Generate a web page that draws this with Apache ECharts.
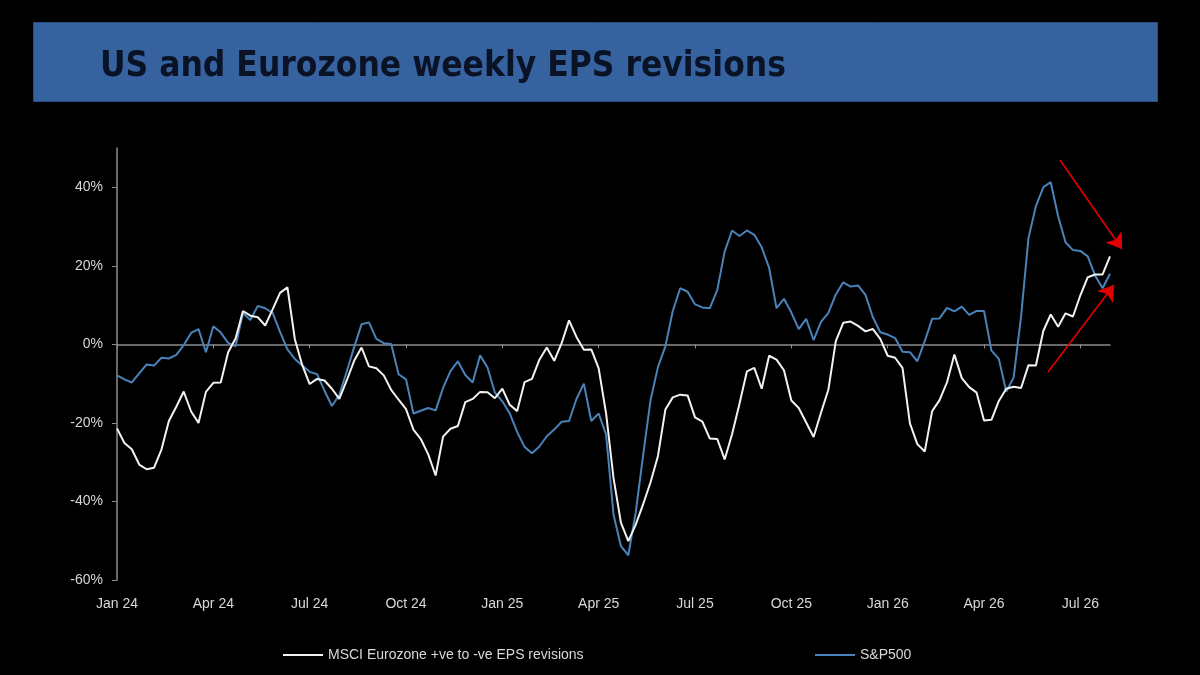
<!DOCTYPE html>
<html>
<head>
<meta charset="utf-8">
<script src="https://cdn.jsdelivr.net/npm/echarts@6/dist/echarts.min.js"></script>
<style>
html,body{margin:0;padding:0;background:#000;}
#chart{width:1200px;height:675px;}
</style>
</head>
<body>
<div id="chart"></div>
<script>
// ---- data ----
const titleText = "US and Eurozone weekly EPS revisions";
const seriesNames = ["MSCI Eurozone +ve to -ve EPS revisions", "S&P500"];
const tickLabels = ["Jan 24","Apr 24","Jul 24","Oct 24","Jan 25","Apr 25","Jul 25","Oct 25","Jan 26","Apr 26","Jul 26"];
const yTicks = [-60,-40,-20,0,20,40];

const eurozone = [
-21.4,-25.1,-26.7,-30.6,-31.8,-31.4,-26.8,-19.5,-15.9,-12.0,
-17.1,-20.0,-12.1,-9.8,-9.7,-2.0,1.5,8.5,7.3,6.9,
4.8,8.9,13.1,14.5,1.3,-5.3,-10.1,-8.8,-9.2,-11.3,
-13.9,-9.2,-4.2,-0.8,-5.6,-6.1,-7.9,-11.6,-14.1,-16.5,
-21.7,-24.1,-28.0,-33.4,-23.5,-21.5,-20.8,-14.7,-13.9,-12.1,
-12.2,-13.7,-11.3,-15.4,-17.0,-9.6,-8.8,-3.9,-0.8,-4.2,
0.3,6.1,1.9,-1.4,-1.3,-6.1,-17.6,-34.0,-45.4,-50.1,
-45.9,-40.7,-35.1,-28.4,-16.6,-13.5,-12.8,-13.0,-18.6,-19.7,
-24.0,-24.1,-29.3,-22.9,-15.1,-6.9,-6.0,-11.3,-2.9,-3.9,
-6.6,-14.3,-16.2,-19.9,-23.6,-17.4,-11.5,0.8,5.5,5.8,
4.7,3.3,3.9,1.4,-2.9,-3.4,-6.0,-20.1,-25.4,-27.3,
-17.0,-14.2,-9.7,-2.6,-8.6,-10.9,-12.3,-19.4,-19.2,-14.4,
-11.3,-10.8,-11.1,-5.3,-5.4,3.4,7.6,4.5,7.9,7.1,
12.5,17.1,17.8,17.8,22.4
];

const sp500 = [
-7.9,-8.9,-9.7,-7.4,-5.1,-5.4,-3.4,-3.6,-2.7,-0.2,
2.9,3.9,-2.0,4.6,3.0,0.4,-0.5,8.0,6.2,9.8,
9.2,8.0,3.2,-1.3,-3.7,-5.4,-7.0,-7.6,-11.8,-15.7,
-12.9,-6.9,-0.7,5.1,5.6,1.4,0.3,0.1,-7.6,-8.9,
-17.6,-16.9,-16.2,-16.8,-11.1,-6.8,-4.3,-7.8,-9.7,-2.8,
-5.9,-12.3,-14.5,-17.6,-22.3,-26.1,-27.7,-26.0,-23.4,-21.7,
-19.7,-19.5,-13.9,-10.0,-19.5,-17.6,-23.0,-43.3,-51.4,-53.7,
-42.8,-28.2,-14.2,-5.8,-0.5,8.5,14.3,13.4,10.2,9.4,
9.2,13.8,23.6,29.0,27.6,29.0,27.9,24.7,19.5,9.2,
11.6,8.1,3.9,6.5,1.1,5.7,8.0,12.7,15.8,14.7,
15.0,12.6,6.9,3.1,2.5,1.6,-1.9,-2.0,-4.3,0.8,
6.5,6.6,9.3,8.4,9.6,7.5,8.5,8.5,-1.6,-3.7,
-12.0,-8.4,7.1,27.1,35.2,40.0,41.3,32.6,26.0,24.0,
23.8,22.4,17.5,14.3,18.0
];

// weekly dates as categories (one per value)
const startDate = new Date(Date.UTC(2024, 0, 5));
const weeks = eurozone.map((_, i) => {
  const d = new Date(startDate.getTime() + i * 7 * 86400000);
  return d.toISOString().slice(0, 10);
});
const weeksPerTick = 13;

// ---- chart ----
const chart = echarts.init(document.getElementById('chart'), null, {renderer: 'canvas'});
const txtFont = "'Liberation Sans', Arial, sans-serif";
const txtSize = 14;
const txtColor = '#d8d8d8';
const axisColor = '#8c8c8c';

chart.setOption({
  backgroundColor: '#000000',
  animation: false,
  graphic: [{
    type: 'rect', left: 33, top: 22, z: 0,
    shape: {width: 1124, height: 79},
    style: {fill: '#3762a0', stroke: '#2a4f85', lineWidth: 1}
  }],
  title: {
    text: titleText, left: 95, top: 44, z: 10,
    textStyle: {fontFamily: "'DejaVu Sans Condensed', 'DejaVu Sans', sans-serif", fontWeight: 'bold', fontSize: 35, color: '#0a1226'}
  },
  legend: [
    {data: [seriesNames[0]], left: 278, top: 643, icon: 'rect', itemWidth: 40, itemHeight: 2,
     textStyle: {color: txtColor, fontFamily: txtFont, fontSize: txtSize}},
    {data: [seriesNames[1]], left: 810, top: 643, icon: 'rect', itemWidth: 40, itemHeight: 2,
     textStyle: {color: txtColor, fontFamily: txtFont, fontSize: txtSize}}
  ],
  grid: {left: 117, right: 90, top: 148, bottom: 95, containLabel: false},
  xAxis: [
    {
      type: 'category', data: weeks, boundaryGap: false,
      axisLine: {onZero: true, lineStyle: {color: axisColor, width: 1.5}},
      axisTick: {show: true, interval: weeksPerTick - 1, length: 4, lineStyle: {color: axisColor}},
      axisLabel: {show: false},
      splitLine: {show: false}
    },
    {
      type: 'category', data: weeks, boundaryGap: false, position: 'bottom',
      axisLine: {show: false, onZero: false},
      axisTick: {show: false},
      axisLabel: {
        show: true, interval: weeksPerTick - 1, margin: 17,
        color: txtColor, fontFamily: txtFont, fontSize: txtSize,
        formatter: (v, idx) => (idx % weeksPerTick === 0 ? (tickLabels[idx / weeksPerTick] || '') : '')
      },
      splitLine: {show: false}
    }
  ],
  yAxis: {
    type: 'value', min: -60, max: 50, interval: 20,
    axisLine: {show: true, lineStyle: {color: axisColor, width: 1.5}},
    axisTick: {show: true, length: 5, customValues: yTicks, lineStyle: {color: axisColor}},
    axisLabel: {customValues: yTicks, margin: 14, color: txtColor, fontFamily: txtFont, fontSize: txtSize,
      formatter: v => v + '%'},
    splitLine: {show: false}
  },
  series: [
    {
      name: seriesNames[0], type: 'line', data: eurozone, xAxisIndex: 0,
      symbol: 'none', smooth: false,
      lineStyle: {color: '#f2f2f2', width: 2}, itemStyle: {color: '#f2f2f2'}, z: 3
    },
    {
      name: seriesNames[1], type: 'line', data: sp500, xAxisIndex: 0,
      symbol: 'none', smooth: false,
      lineStyle: {color: '#4a82ba', width: 2}, itemStyle: {color: '#4a82ba'}, z: 2,
      markLine: {
        silent: true, symbol: ['none', 'arrow'], symbolSize: 15,
        label: {show: false},
        lineStyle: {color: '#e30000', width: 1.6, type: 'solid'},
        data: [
          [{x: 1060, y: 160}, {x: 1122, y: 249}],
          [{x: 1048, y: 372}, {x: 1114, y: 285}]
        ]
      }
    }
  ]
});
</script>
</body>
</html>
